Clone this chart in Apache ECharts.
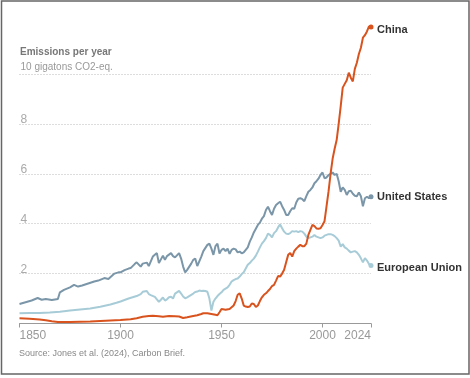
<!DOCTYPE html>
<html>
<head>
<meta charset="utf-8">
<script src="https://cdn.jsdelivr.net/npm/echarts@6/dist/echarts.min.js"></script>
<style>
html,body{margin:0;padding:0;background:#fff;}
#chart{width:470px;height:378px;}
</style>
</head>
<body>
<div id="chart"></div>
<script>
// ---- Data ----
const usYears = [1850,1853,1856,1859,1861,1863,1866,1869,1870,1872,1875,1877,1879,1881,1884,1887,1889,1892,1894,1897,1899,1900,1902,1904,1905,1907,1908,1910,1911,1913,1914,1916,1918,1919,1921,1922,1923,1925,1926,1927,1929,1930,1931,1932,1933,1935,1936,1937,1938,1940,1941,1943,1944,1945,1946,1947,1948,1949,1950,1951,1952,1953,1954,1955,1956,1957,1958,1959,1960,1961,1962,1963,1964,1965,1966,1967,1968,1969,1970,1971,1972,1973,1974,1975,1976,1977,1978,1979,1980,1981,1982,1983,1984,1985,1986,1987,1988,1989,1990,1991,1992,1993,1994,1995,1996,1997,1998,1999,2000,2001,2002,2003,2004,2005,2006,2007,2008,2009,2010,2011,2012,2013,2014,2015,2016,2017,2018,2019,2020,2021,2022,2023,2024];
const usValues = [0.78,0.85,0.92,1.02,0.95,0.98,0.94,0.98,1.25,1.35,1.45,1.55,1.48,1.52,1.6,1.68,1.72,1.82,1.78,2.0,2.05,2.05,2.14,2.2,2.22,2.38,2.45,2.28,2.4,2.44,2.3,2.68,2.82,2.42,2.72,2.55,2.7,2.82,2.7,2.65,2.82,2.6,2.28,2.05,2.15,2.4,2.55,2.6,2.3,2.68,2.9,3.15,3.2,3.0,2.75,3.1,3.2,2.8,2.95,3.0,2.9,3.0,2.79,2.95,3.0,2.97,2.85,2.88,2.81,2.85,2.95,3.05,3.28,3.45,3.65,3.8,3.95,4.04,4.2,4.3,4.55,4.68,4.5,4.35,4.6,4.75,4.82,4.88,4.7,4.55,4.35,4.35,4.5,4.62,4.6,4.85,5.0,5.02,4.98,4.9,5.1,5.28,5.35,5.45,5.62,5.7,5.8,5.95,6.05,5.82,5.85,5.95,6.0,6.05,5.95,6.0,5.7,5.28,5.45,5.35,5.15,5.3,5.32,5.2,5.12,5.1,5.25,5.1,4.7,5.02,5.08,5.02,5.08];

const euYears = [1850,1855,1860,1865,1870,1875,1880,1885,1890,1895,1898,1900,1902,1904,1906,1908,1910,1911,1913,1914,1915,1917,1919,1920,1921,1922,1923,1924,1925,1926,1927,1929,1930,1931,1932,1933,1934,1936,1937,1938,1939,1940,1941,1942,1943,1944,1945,1946,1947,1948,1949,1950,1951,1952,1953,1954,1955,1956,1957,1958,1959,1960,1961,1962,1963,1964,1965,1966,1967,1968,1969,1970,1971,1972,1973,1974,1975,1976,1977,1978,1979,1980,1981,1982,1983,1984,1985,1986,1987,1988,1989,1990,1991,1992,1993,1994,1995,1996,1997,1998,1999,2000,2001,2002,2003,2004,2005,2006,2007,2008,2009,2010,2011,2012,2013,2014,2015,2016,2017,2018,2019,2020,2021,2022,2023,2024];
const euValues = [0.41,0.42,0.42,0.44,0.47,0.52,0.56,0.6,0.67,0.76,0.83,0.88,0.94,1.0,1.05,1.1,1.18,1.27,1.3,1.18,1.14,1.07,0.87,0.95,1.04,0.92,0.97,1.05,1.07,1.0,1.2,1.31,1.2,1.08,1.01,1.05,1.1,1.2,1.26,1.28,1.32,1.3,1.31,1.3,1.27,1.0,0.52,0.87,1.0,1.1,1.18,1.25,1.35,1.4,1.45,1.55,1.68,1.74,1.78,1.8,1.88,1.98,2.05,2.2,2.35,2.42,2.52,2.6,2.72,2.88,3.05,3.2,3.3,3.42,3.6,3.55,3.45,3.62,3.7,3.85,3.97,3.82,3.68,3.6,3.58,3.62,3.7,3.68,3.7,3.66,3.7,3.68,3.6,3.48,3.42,3.45,3.48,3.55,3.48,3.45,3.42,3.45,3.52,3.55,3.58,3.58,3.55,3.5,3.42,3.32,3.08,3.18,3.05,3.0,2.92,2.85,2.88,2.9,2.85,2.75,2.61,2.45,2.62,2.52,2.38,2.32];

const cnYears = [1850,1855,1860,1863,1866,1869,1875,1880,1885,1890,1895,1900,1905,1908,1911,1914,1916,1919,1921,1924,1927,1929,1931,1933,1936,1938,1940,1941,1943,1945,1947,1948,1949,1950,1952,1954,1955,1956,1957,1958,1959,1960,1961,1962,1963,1964,1965,1966,1967,1968,1969,1970,1971,1972,1973,1974,1975,1976,1977,1978,1979,1980,1981,1982,1983,1984,1985,1986,1987,1988,1989,1990,1991,1992,1993,1994,1995,1996,1997,1998,1999,2000,2001,2002,2003,2004,2005,2006,2007,2008,2009,2010,2011,2012,2013,2014,2015,2016,2017,2018,2019,2020,2021,2022,2023,2024];
const cnValues = [0.21,0.19,0.16,0.13,0.09,0.06,0.06,0.07,0.08,0.1,0.12,0.14,0.17,0.21,0.27,0.3,0.31,0.29,0.27,0.3,0.29,0.28,0.22,0.25,0.3,0.33,0.38,0.41,0.41,0.38,0.35,0.33,0.45,0.58,0.55,0.58,0.65,0.72,0.9,1.15,1.21,1.0,0.72,0.68,0.66,0.68,0.8,0.78,0.66,0.72,0.9,1.05,1.15,1.21,1.3,1.38,1.5,1.55,1.72,1.9,1.88,2.0,2.15,2.45,2.75,2.82,2.68,2.9,3.0,3.08,3.15,3.1,3.1,3.2,3.55,3.75,3.95,3.9,3.81,3.8,3.82,3.95,4.1,4.7,5.3,6.0,6.6,7.0,7.35,8.0,8.7,9.45,9.6,9.75,10.05,9.85,9.7,10.2,10.45,10.8,11.05,11.45,11.55,11.7,11.9,11.88];

const seriesNames = ['European Union','United States','China'];
const seriesColors = ['#a7ccd7','#7a96a8','#d9531e'];
const yTicks = [0,2,4,6,8,10,12];
const xTickLabels = [1850,1900,1950,2000,2024];
const yUnitLabel = '10 gigatons CO2-eq.';
const titleText = 'Emissions per year';
const sourceText = 'Source: Jones et al. (2024), Carbon Brief.';

function build(years, values){
  return years.map((y,i)=>{
    const item = {value:[y, values[i]]};
    if (i === years.length-1) { item.symbol = 'circle'; item.symbolSize = 5; }
    return item;
  });
}

const chart = echarts.init(document.getElementById('chart'), null, {renderer:'canvas'});
const labelOffsets = [[0,2],[0,0],[0,3]];
const dataSets = [[euYears,euValues],[usYears,usValues],[cnYears,cnValues]];

const option = {
  animation:false,
  backgroundColor:'#fff',
  title:[
    {text:titleText, left:20, top:47.5, padding:0, textStyle:{fontFamily:'Liberation Sans', fontSize:10, fontWeight:'bold', color:'#777'}},
    {text:sourceText, left:19, top:349.5, padding:0, textStyle:{fontFamily:'Liberation Sans', fontSize:9, fontWeight:'normal', color:'#888'}}
  ],
  graphic:[{type:'rect', silent:true, shape:{x:1.5,y:1,width:467.5,height:373}, style:{fill:null, stroke:'#666', lineWidth:1.5}}],
  grid:{left:19.5, right:99, top:24, bottom:54.5, containLabel:false},
  xAxis:{
    type:'value', min:xTickLabels[0], max:xTickLabels[xTickLabels.length-1], interval:50,
    axisLine:{show:true, lineStyle:{color:'#9a9a9a', width:1}},
    axisTick:{show:true, length:4, lineStyle:{color:'#9a9a9a'}},
    axisLabel:{show:true, color:'#999', fontFamily:'Liberation Sans', fontSize:12, margin:6,
      alignMinLabel:'left', alignMaxLabel:'right',
      formatter:(v)=> xTickLabels.indexOf(v)>=0 ? String(v) : ''},
    splitLine:{show:false}
  },
  yAxis:{
    type:'value', min:yTicks[0], max:yTicks[yTicks.length-1], interval:2,
    axisLine:{show:false}, axisTick:{show:false},
    splitLine:{show:true, showMinLine:false, showMaxLine:false, lineStyle:{color:'#bbb', type:[1,2], width:1}},
    axisLabel:{show:true, inside:true, margin:1, verticalAlign:'bottom', lineHeight:8,
      color:'#aaa', fontFamily:'Liberation Sans', fontSize:12,
      formatter:(v)=>{
        if (v===0 || v===12) return '';
        if (v===10) return '{u|'+yUnitLabel+'}';
        return String(v);
      },
      rich:{u:{fontFamily:'Liberation Sans', fontSize:10, color:'#999', lineHeight:14}}
    }
  },
  series: dataSets.map((d,i)=>({
    name:seriesNames[i], type:'line', data:build(d[0], d[1]),
    symbol:'none', showSymbol:true, smooth:false,
    lineStyle:{color:seriesColors[i], width:2},
    itemStyle:{color:seriesColors[i], borderWidth:0},
    emphasis:{disabled:true}, silent:true, z:2+i,
    endLabel:{show:true, formatter:'{a}', distance:6, offset:labelOffsets[i],
      fontFamily:'Liberation Sans', fontSize:11, fontWeight:'bold', color:'#333'}
  }))
};
chart.setOption(option);
</script>
</body>
</html>
